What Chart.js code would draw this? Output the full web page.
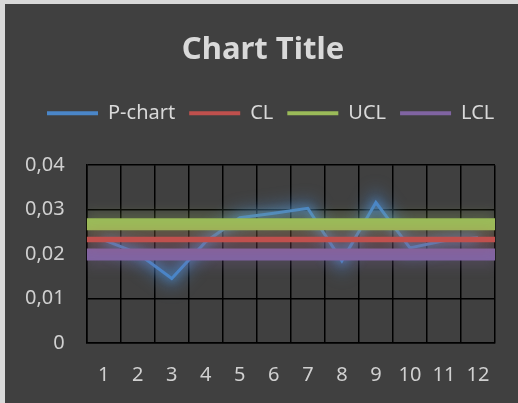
<!DOCTYPE html>
<html>
<head>
<meta charset="utf-8">
<script src="https://cdn.jsdelivr.net/npm/chart.js@4/dist/chart.umd.min.js"></script>
<style>
  html, body { margin: 0; padding: 0; background: #d9d9d9; width: 518px; height: 403px; overflow: hidden; }
  #wrap { position: absolute; left: 5px; top: 4px; width: 513px; height: 399px; background: #404040; }
</style>
</head>
<body>
<div id="wrap"><canvas id="c" width="513" height="399"></canvas></div>
<script>
// ---- data ----
const categories = ['1','2','3','4','5','6','7','8','9','10','11','12'];
const pValues = [0.0232, 0.0202, 0.0145, 0.0228, 0.0282, 0.0292, 0.0303, 0.0185, 0.0316, 0.0214, 0.0230, 0.0237];
const CL = 0.0233;
const UCL = 0.0267;
const LCL = 0.0199;
const yTickLabels = ['0', '0,01', '0,02', '0,03', '0,04'];
const seriesNames = ['P-chart', 'CL', 'UCL', 'LCL'];

const colors = { p: '#4A86C8', cl: '#C0504D', ucl: '#9BBB59', lcl: '#8064A2' };
const FONT = "'Noto Sans', 'DejaVu Sans', sans-serif";

function band(v) { return [{ x: 0, y: v }, { x: 1, y: v }]; }

const glowPlugin = {
  id: 'glow',
  beforeDatasetDraw(chart, args) {
    const ctx = chart.ctx;
    const a = chart.chartArea;
    const el = args.meta.dataset;
    const bw = el.options.borderWidth;
    const isP = args.index === 0;
    // soft outer glow, drawn by the library's own line element
    ctx.save();
    ctx.beginPath();
    ctx.rect(a.left, a.top, a.right - a.left, a.bottom - a.top);
    ctx.clip();
    ctx.filter = isP ? 'blur(8px)' : 'blur(6px)';
    ctx.globalAlpha = isP ? 0.45 : 0.22;
    el.options.borderWidth = isP ? 16 : bw + 12;
    el.draw(ctx, a);
    el.options.borderWidth = bw;
    ctx.restore();
    if (isP) {
      ctx.save();
      ctx.shadowColor = 'rgba(80,150,225,0.8)';
      ctx.shadowBlur = 8;
    }
  },
  afterDatasetDraw(chart, args) {
    if (args.index === 0) chart.ctx.restore();
  }
};

const layoutTweak = {
  id: 'layoutTweak',
  beforeInit(chart) {
    const lg = chart.legend;
    const orig = lg.fit;
    lg.fit = function () {
      this.maxWidth = 2000;
      orig.call(this);
      this.width = chart.width;
      this.height += 32;
    };
  },
  afterLayout(chart) {
    chart.legend.left = 28;
    chart.legend.right = 2000;
    if (chart.titleBlock) {
      chart.titleBlock.left += 14;
      chart.titleBlock.right += 14;
    }
  }
};

new Chart(document.getElementById('c'), {
  type: 'line',
  data: {
    labels: categories,
    datasets: [
      { label: seriesNames[0], data: pValues, borderColor: colors.p, backgroundColor: colors.p, borderWidth: 3, pointRadius: 0, order: 10, xAxisID: 'x', tension: 0 },
      { label: seriesNames[1], data: band(CL), borderColor: colors.cl, backgroundColor: colors.cl, borderWidth: 5.5, pointRadius: 0, order: 1, xAxisID: 'x2' },
      { label: seriesNames[2], data: band(UCL), borderColor: colors.ucl, backgroundColor: colors.ucl, borderWidth: 12, pointRadius: 0, order: 1, xAxisID: 'x2' },
      { label: seriesNames[3], data: band(LCL), borderColor: colors.lcl, backgroundColor: colors.lcl, borderWidth: 12, pointRadius: 0, order: 1, xAxisID: 'x2' }
    ]
  },
  options: {
    responsive: false,
    animation: false,
    layout: { padding: { left: -2, right: 23, top: 0, bottom: -4 } },
    plugins: {
      tooltip: { enabled: false },
      title: {
        display: true,
        text: 'Chart Title',
        color: '#d9d9d9',
        font: { family: FONT, size: 31, weight: 'bold' },
        padding: { top: 28, bottom: 20 }
      },
      legend: {
        display: true,
        position: 'top',
        align: 'start',
        labels: {
          color: '#d9d9d9',
          font: { family: FONT, size: 20 },
          boxWidth: 51,
          boxHeight: 4,
          padding: 14,
          sort: (a, b) => a.datasetIndex - b.datasetIndex,
          generateLabels(chart) {
            const items = Chart.defaults.plugins.legend.labels.generateLabels(chart);
            return items.map(it => Object.assign(it, { lineWidth: 0, fillStyle: it.strokeStyle }));
          }
        }
      }
    },
    scales: {
      x: {
        type: 'category',
        offset: true,
        grid: { display: true, offset: true, color: '#000', lineWidth: 1.5, drawTicks: false },
        border: { display: true, color: '#000', width: 1.5 },
        ticks: { color: '#d0d0d0', font: { family: FONT, size: 20 }, padding: 20, maxRotation: 0, autoSkip: false }
      },
      x2: { type: 'linear', min: 0, max: 1, display: false },
      y: {
        min: 0, max: 0.04,
        grid: { color: '#000', lineWidth: 1.5, drawTicks: false },
        border: { display: true, color: '#000', width: 1.5 },
        ticks: {
          stepSize: 0.01,
          color: '#d0d0d0',
          font: { family: FONT, size: 20 },
          padding: 22,
          callback: (v, i) => yTickLabels[i]
        }
      }
    }
  },
  plugins: [glowPlugin, layoutTweak]
});
</script>
</body>
</html>
